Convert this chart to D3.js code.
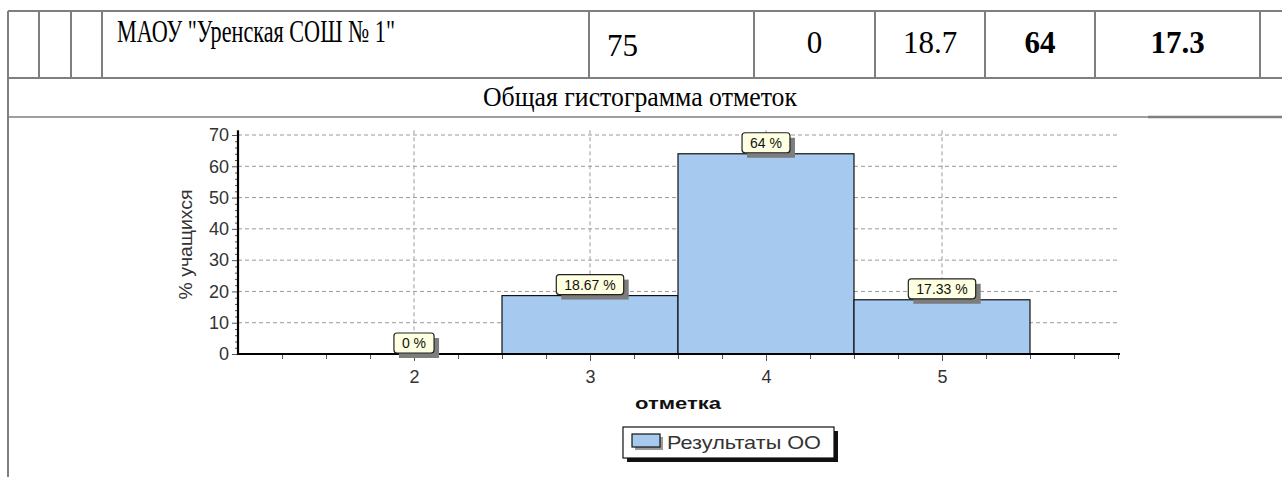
<!DOCTYPE html>
<html><head><meta charset="utf-8">
<script src="https://cdn.jsdelivr.net/npm/d3@7"></script>
<style>html,body{margin:0;padding:0;background:#fff;overflow:hidden}</style>
</head><body>
<svg id="c" width="1282" height="477"></svg>
<script>
// ---- data ----
const schoolName = 'МАОУ "Уренская СОШ № 1"';
const rowNumbers = ["75", "0", "18.7", "64", "17.3"];
const rowBold = [false, false, false, true, true];
const chartTitle = "Общая гистограмма отметок";
const grades = [2, 3, 4, 5];
const percents = [0, 18.67, 64, 17.33];
const valueLabels = ["0 %", "18.67 %", "64 %", "17.33 %"];
const yTicks = [0, 10, 20, 30, 40, 50, 60, 70];
const xTitle = "отметка";
const yTitle = "% учащихся";
const legendLabel = "Результаты ОО";

const svg = d3.select("#c");
const lineCol = "#7f7f7f";

// ---- table ----
const colX = [8, 39, 71, 102, 589, 754, 875, 985, 1095, 1260];
const rowY = [11, 78, 117];
const tg = svg.append("g");
tg.append("line").attr("x1", 8).attr("x2", 1282).attr("y1", rowY[0]).attr("y2", rowY[0]).attr("stroke", lineCol).attr("stroke-width", 2);
tg.append("line").attr("x1", 8).attr("x2", 1282).attr("y1", rowY[1]).attr("y2", rowY[1]).attr("stroke", lineCol).attr("stroke-width", 2);
tg.append("line").attr("x1", 8).attr("x2", 1148).attr("y1", rowY[2]).attr("y2", rowY[2]).attr("stroke", lineCol).attr("stroke-width", 1.5);
tg.append("line").attr("x1", 1148).attr("x2", 1282).attr("y1", rowY[2]).attr("y2", rowY[2]).attr("stroke", lineCol).attr("stroke-width", 2.5);
tg.selectAll("line.v").data(colX).join("line").attr("class", "v")
  .attr("x1", d => d).attr("x2", d => d).attr("y1", rowY[0]).attr("y2", rowY[1])
  .attr("stroke", lineCol).attr("stroke-width", 2);
tg.append("line").attr("x1", 8).attr("x2", 8).attr("y1", rowY[0]).attr("y2", 477).attr("stroke", lineCol).attr("stroke-width", 2);

tg.append("text").attr("x", 117).attr("y", 42)
  .attr("font-family", "Liberation Serif").attr("font-size", 32)
  .attr("textLength", 278).attr("lengthAdjust", "spacingAndGlyphs")
  .text(schoolName);

const numCells = rowNumbers.map((t, i) => ({ t, bold: rowBold[i], x0: colX[4 + i], x1: colX[5 + i] }));
tg.selectAll("text.num").data(numCells).join("text").attr("class", "num")
  .attr("x", (d, i) => i === 0 ? d.x0 + 18 : (d.x0 + d.x1) / 2)
  .attr("y", (d, i) => i === 0 ? 56 : 53)
  .attr("text-anchor", (d, i) => i === 0 ? "start" : "middle")
  .attr("font-family", "Liberation Serif").attr("font-size", 31)
  .attr("font-weight", d => d.bold ? "bold" : "normal")
  .text(d => d.t);

tg.append("text").attr("x", 640).attr("y", 106).attr("text-anchor", "middle")
  .attr("font-family", "Liberation Serif").attr("font-size", 27)
  .attr("textLength", 314).attr("lengthAdjust", "spacingAndGlyphs")
  .text(chartTitle);

// ---- chart ----
const x = d3.scaleLinear().domain([1, 6]).range([238, 1118]);
const y = d3.scaleLinear().domain([0, 70]).range([354, 135]);
const cg = svg.append("g");
const font = "Liberation Sans";
const gridCol = "#9a9a9a";
const txtCol = "#333";

// horizontal grid
cg.selectAll("line.hg").data(yTicks.filter(d => d > 0)).join("line").attr("class", "hg")
  .attr("x1", x(1)).attr("x2", x(6)).attr("y1", d => y(d)).attr("y2", d => y(d))
  .attr("stroke", gridCol).attr("stroke-dasharray", "4,3");
// vertical grid
cg.selectAll("line.vg").data(grades).join("line").attr("class", "vg")
  .attr("x1", d => x(d)).attr("x2", d => x(d)).attr("y1", y(71.5)).attr("y2", y(0))
  .attr("stroke", gridCol).attr("stroke-dasharray", "4,3");

// bars
cg.selectAll("rect.bar").data(grades.map((g, i) => ({ g, v: percents[i] })).filter(d => d.v > 0))
  .join("rect").attr("class", "bar")
  .attr("x", d => x(d.g - 0.5)).attr("width", d => x(d.g + 0.5) - x(d.g - 0.5))
  .attr("y", d => y(d.v)).attr("height", d => y(0) - y(d.v))
  .attr("fill", "#a6c9ef").attr("stroke", "#111").attr("stroke-width", 1.2);

// x axis
const xAxis = d3.axisBottom(x).tickValues(grades).tickSize(7).tickFormat(d3.format("d"));
const xg = cg.append("g").attr("transform", `translate(0,${y(0)})`).call(xAxis);
xg.select(".domain").remove();
xg.selectAll(".tick line").attr("stroke", "#555");
xg.selectAll(".tick text").attr("font-family", font).attr("font-size", 18).attr("fill", txtCol)
  .attr("dy", "0.71em").attr("y", 16);
const xMinor = d3.range(1.25, 6.01, 0.25).filter(v => Math.abs(v - Math.round(v)) > 0.01 || Math.round(v) === 6);
const xmAxis = d3.axisBottom(x).tickValues(xMinor).tickSize(5).tickFormat("");
const xmg = cg.append("g").attr("transform", `translate(0,${y(0)})`).call(xmAxis);
xmg.select(".domain").remove();
xmg.selectAll(".tick line").attr("stroke", "#555");

// y axis
const yAxis = d3.axisLeft(y).tickValues(yTicks).tickSize(6);
const yg = cg.append("g").attr("transform", `translate(${x(1)},0)`).call(yAxis);
yg.select(".domain").remove();
yg.selectAll(".tick line").attr("stroke", "#555");
yg.selectAll(".tick text").attr("font-family", font).attr("font-size", 18).attr("fill", txtCol).attr("x", -9);
const yMinor = d3.range(2, 71, 2).filter(v => v % 10 !== 0);
const ymg = cg.append("g").attr("transform", `translate(${x(1)},0)`).call(d3.axisLeft(y).tickValues(yMinor).tickSize(3).tickFormat(""));
ymg.select(".domain").remove();
ymg.selectAll(".tick line").attr("stroke", "#555");

// axis lines
cg.append("line").attr("x1", x(1)).attr("x2", x(6) + 2).attr("y1", y(0)).attr("y2", y(0)).attr("stroke", "#000").attr("stroke-width", 2.2);
cg.append("line").attr("x1", x(1)).attr("x2", x(1)).attr("y1", y(71.5)).attr("y2", y(0) + 1).attr("stroke", "#000").attr("stroke-width", 2.2);

// value labels
const lab = cg.selectAll("g.lab").data(grades.map((g, i) => ({ g, v: percents[i], t: valueLabels[i] })))
  .join("g").attr("class", "lab");
lab.each(function (d) {
  const g = d3.select(this);
  const tmp = g.append("text").attr("font-family", font).attr("font-size", 14).text(d.t);
  const w = tmp.node().getComputedTextLength() + 16;
  tmp.remove();
  const h = 20;
  const cx = x(d.g), by = y(d.v) - 1;
  g.append("rect").attr("x", cx - w / 2 + 5).attr("y", by - h + 5).attr("width", w).attr("height", h).attr("fill", "#7d7d7d");
  g.append("rect").attr("x", cx - w / 2).attr("y", by - h).attr("width", w).attr("height", h)
    .attr("rx", 3).attr("fill", "#ffffe1").attr("stroke", "#222").attr("stroke-width", 1.2);
  g.append("text").attr("x", cx).attr("y", by - h / 2 + 5).attr("text-anchor", "middle")
    .attr("font-family", font).attr("font-size", 14).attr("fill", "#111").text(d.t);
});

// axis titles
cg.append("text").attr("x", (x(1) + x(6)) / 2).attr("y", 409).attr("text-anchor", "middle")
  .attr("font-family", font).attr("font-size", 17).attr("font-weight", "bold").attr("fill", "#111")
  .attr("textLength", 86).attr("lengthAdjust", "spacingAndGlyphs").text(xTitle);
cg.append("text").attr("transform", `translate(192,${(y(0) + y(70)) / 2}) rotate(-90)`).attr("text-anchor", "middle")
  .attr("font-family", font).attr("font-size", 18).attr("fill", txtCol)
  .attr("textLength", 110).attr("lengthAdjust", "spacingAndGlyphs").text(yTitle);

// legend
const lg = cg.append("g");
lg.append("rect").attr("x", 627).attr("y", 431).attr("width", 211).attr("height", 31).attr("fill", "#111");
lg.append("rect").attr("x", 623).attr("y", 427).attr("width", 211).attr("height", 31).attr("fill", "#fff").attr("stroke", "#111").attr("stroke-width", 1.2);
lg.append("rect").attr("x", 635).attr("y", 437).attr("width", 28).attr("height", 13).attr("fill", "#9a9a9a");
lg.append("rect").attr("x", 632).attr("y", 434).attr("width", 28).attr("height", 13).attr("fill", "#a6c9ef").attr("stroke", "#111").attr("stroke-width", 1.2);
lg.append("text").attr("x", 667).attr("y", 449).attr("font-family", font).attr("font-size", 19).attr("fill", txtCol)
  .attr("textLength", 154).attr("lengthAdjust", "spacingAndGlyphs").text(legendLabel);
</script>
</body></html>
